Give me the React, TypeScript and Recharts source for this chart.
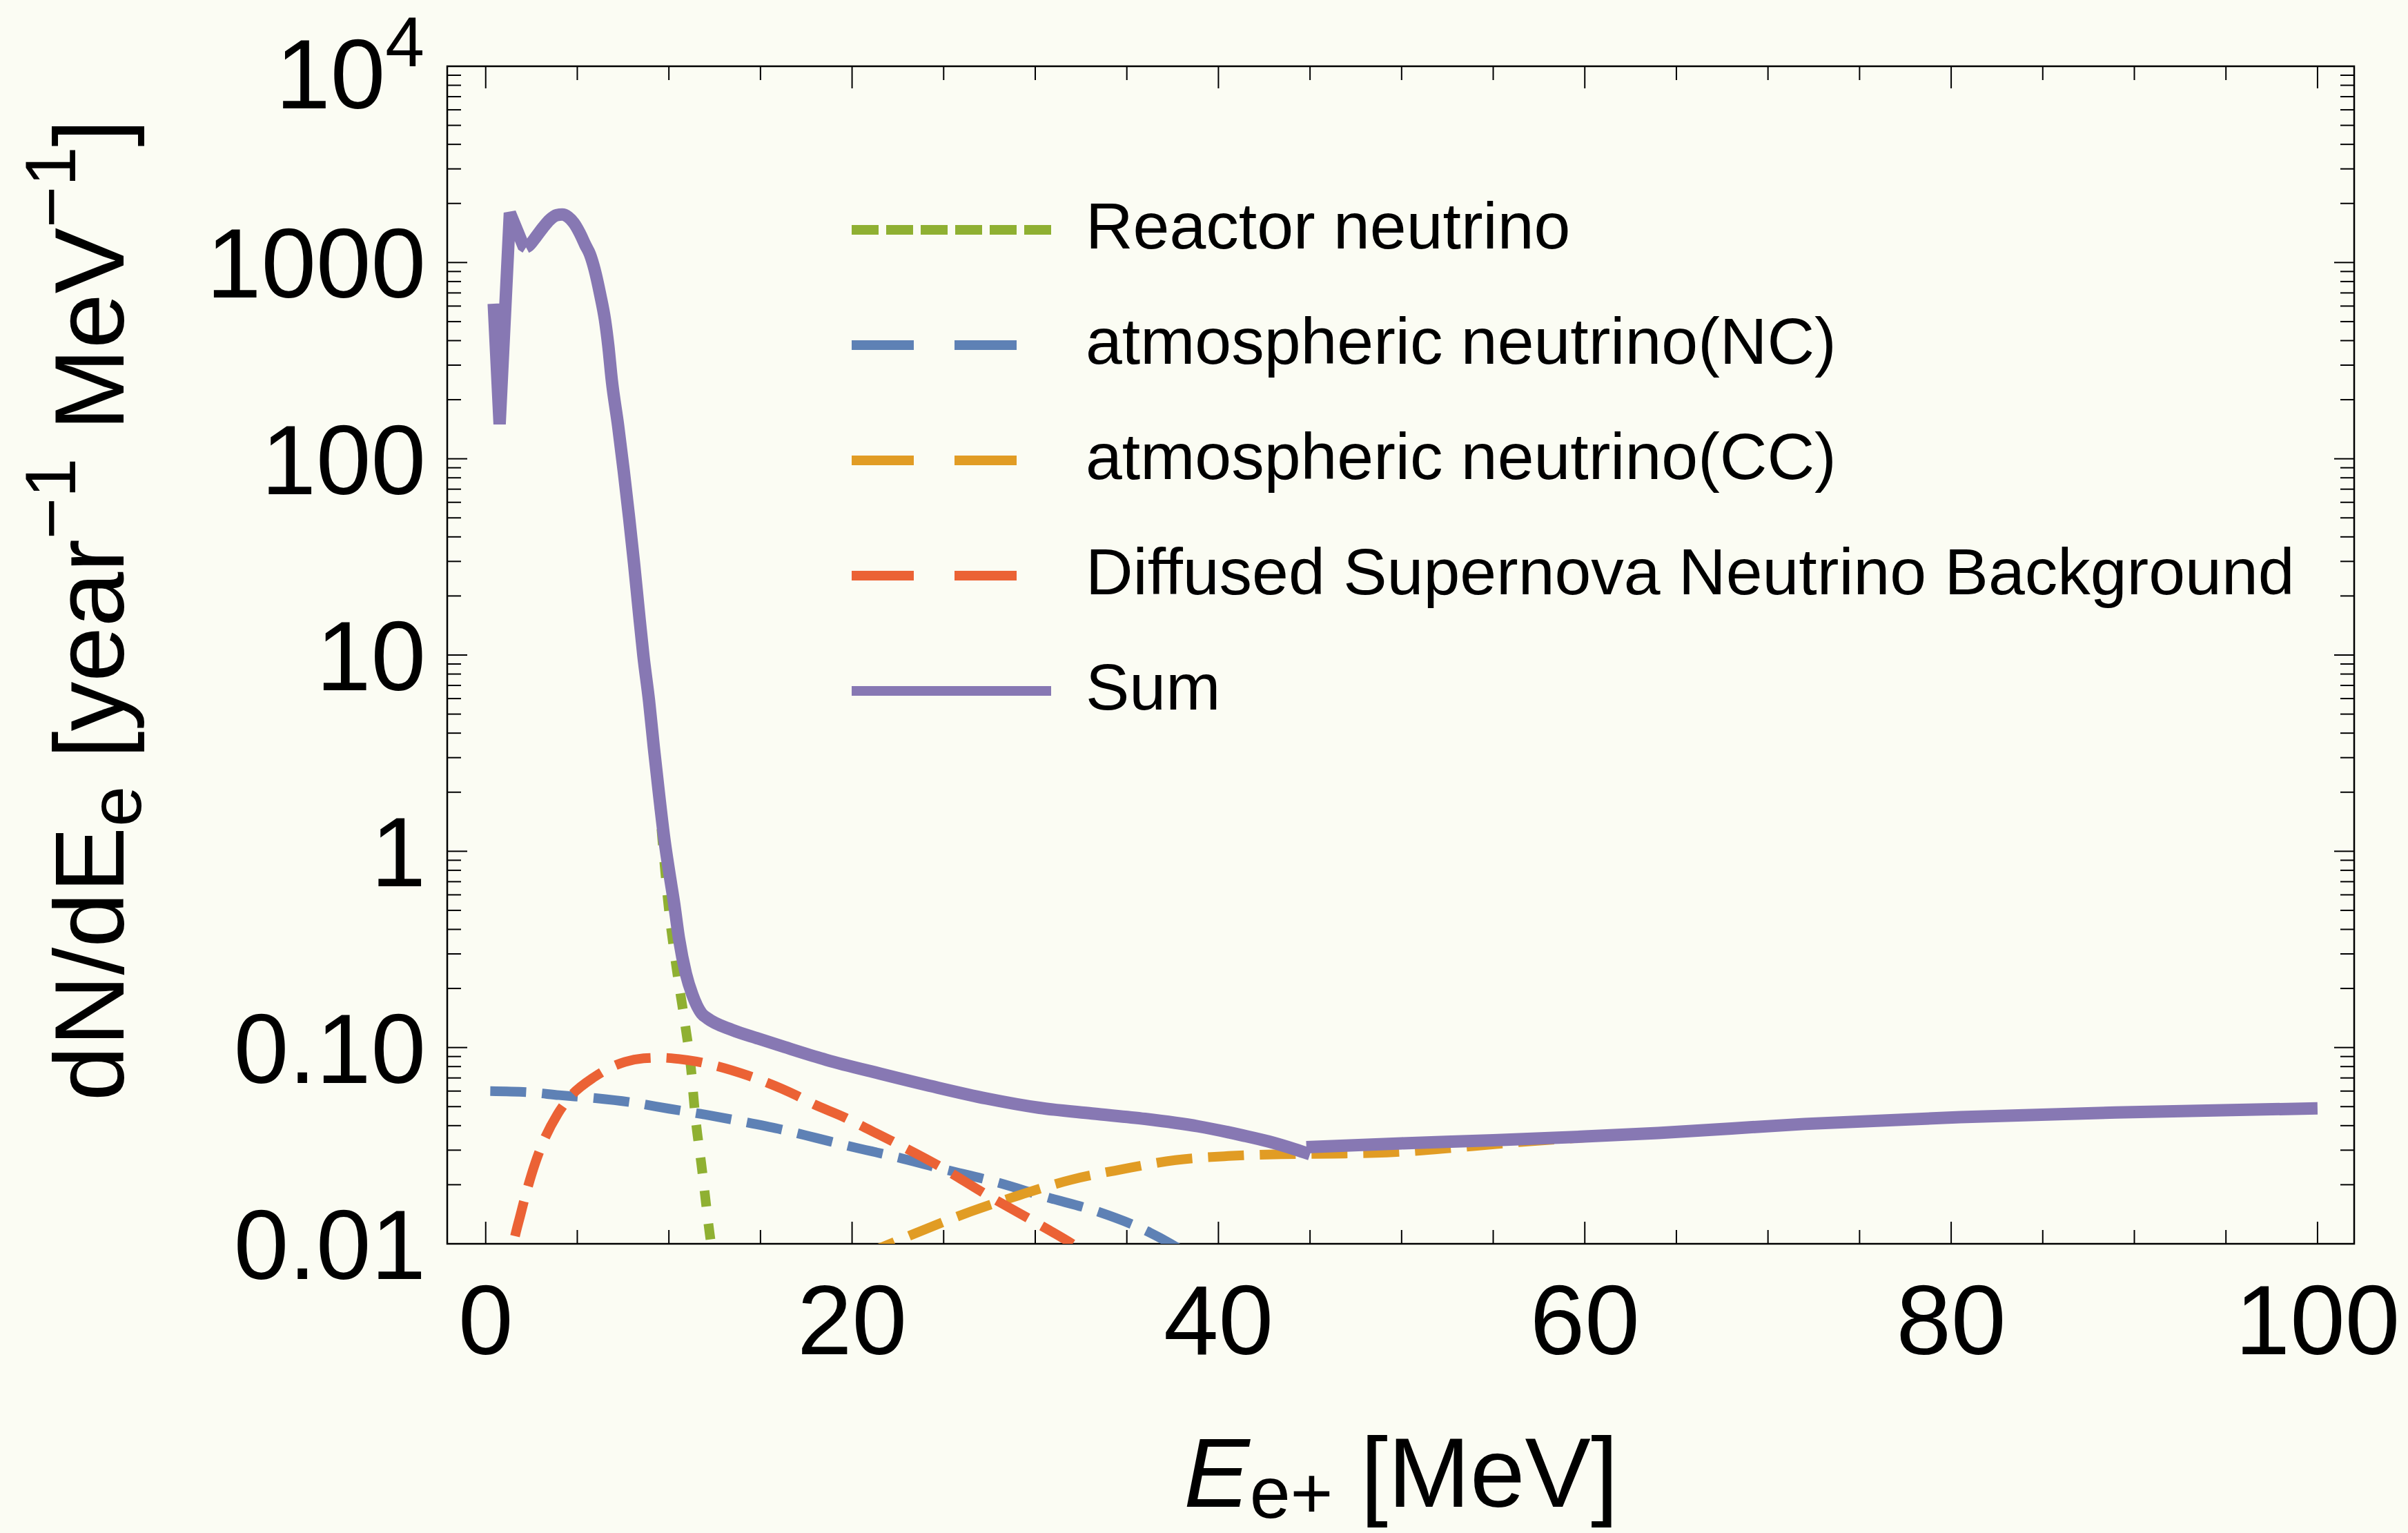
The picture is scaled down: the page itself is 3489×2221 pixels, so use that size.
import React from "react";
import { LineChart, Line, XAxis, YAxis, Legend, ReferenceArea } from "recharts";

type Pt = [number, number];

// positron energy (MeV) vs dN/dE (year^-1 MeV^-1)
const reactorNeutrino: Pt[] = [
  [4.18, 1757], [4.5, 1706], [4.81, 1591], [5.13, 1416], [5.44, 1228], [5.69, 1102],
  [5.94, 925], [6.25, 687], [6.51, 511], [6.69, 379], [6.88, 253], [7.23, 147],
  [7.54, 86], [7.83, 50], [8.1, 29.2], [8.35, 17], [8.61, 9.9], [8.92, 5.8],
  [9.18, 3.37], [9.46, 1.8], [9.72, 0.95], [9.96, 0.548], [10.42, 0.253],
  [10.86, 0.136], [11.21, 0.0778], [11.43, 0.0459], [11.79, 0.0247], [12.22, 0.0114],
  [12.45, 0.008],
];

const atmosphericNC: Pt[] = [
  [0.25, 0.06], [2.3, 0.0592], [4, 0.0572], [6, 0.0552], [8, 0.0525], [10, 0.0488],
  [12, 0.0455], [14, 0.042], [16, 0.0385], [18, 0.0347], [20, 0.0312], [22.2, 0.028],
  [25, 0.024], [27.8, 0.0207], [30.6, 0.0173], [33.4, 0.0146], [36.1, 0.0116],
  [37.4, 0.01], [38.6, 0.0085],
];

const atmosphericCC: Pt[] = [
  [20.5, 0.0087], [21.86, 0.0098], [23.74, 0.0116], [26.48, 0.0146], [29.14, 0.0177],
  [31.96, 0.0212], [34.77, 0.024], [37.65, 0.0267], [40.54, 0.028], [43.43, 0.0286],
  [46.34, 0.0288], [49.2, 0.0292], [51.1, 0.0299], [54, 0.0315], [57, 0.0333], [60, 0.0348],
];

const dsnb: Pt[] = [
  [1.15, 0.006], [1.45, 0.0093], [1.91, 0.0142], [2.71, 0.0259], [3, 0.0307], [3.93, 0.0459],
  [4.44, 0.0537], [5.95, 0.071], [6.67, 0.0779], [7.6, 0.0845], [8.62, 0.0881], [9.53, 0.0888],
  [10.5, 0.0875], [11.5, 0.0849], [12.37, 0.0815], [14.31, 0.072], [15.1, 0.0677],
  [17, 0.0568], [17.8, 0.052], [19.65, 0.0438], [20.35, 0.0406], [22.22, 0.0332],
  [24.82, 0.0247], [27.34, 0.0178], [29.86, 0.0131], [32.24, 0.0097], [33, 0.0087],
];

// the sharp low-energy spike of the sum (kept as straight segments)
const sumSpike: Pt[] = [
  [0.44, 617], [0.76, 150], [1.32, 1790], [1.75, 1430], [2.05, 1220], [2.2, 1195],
];

const sumBelow45: Pt[] = [
  [2.2, 1195], [2.36, 1221], [2.74, 1349], [3.12, 1503], [3.49, 1648], [3.87, 1743],
  [4.18, 1757], [4.5, 1706], [4.81, 1591], [5.13, 1416], [5.44, 1228], [5.69, 1102],
  [5.94, 925], [6.25, 687], [6.51, 511], [6.69, 379], [6.88, 253], [7.23, 147],
  [7.54, 86], [7.83, 50], [8.1, 29.2], [8.35, 17], [8.61, 9.9], [8.92, 5.8],
  [9.18, 3.37], [9.46, 1.96], [9.76, 1.14], [10.05, 0.75], [10.28, 0.548],
  [10.55, 0.36], [10.93, 0.238], [11.29, 0.185], [11.79, 0.149], [12.1, 0.141],
  [13.45, 0.123], [14.89, 0.111], [16.33, 0.1005], [18.6, 0.0865], [21.57, 0.0735],
  [24.45, 0.0632], [27.34, 0.055], [30.23, 0.0493], [33.11, 0.0461], [35.99, 0.0433],
  [38.88, 0.0397], [41.3, 0.0357], [42.74, 0.0332], [44.18, 0.0303], [45, 0.0286],
];

const sumAbove45: Pt[] = [
  [44.8, 0.0311], [50, 0.0325], [55, 0.0337], [60, 0.0352], [64, 0.0367],
  [72, 0.0408], [80.5, 0.0442], [89, 0.0467], [100, 0.049],
];

const seriesNames = [
  "Reactor neutrino",
  "atmospheric neutrino(NC)",
  "atmospheric neutrino(CC)",
  "Diffused Supernova Neutrino Background",
  "Sum",
];

const xTicks = [0, 5, 10, 15, 20, 25, 30, 35, 40, 45, 50, 55, 60, 65, 70, 75, 80, 85, 90, 95, 100];
const xTickLabels = [0, 20, 40, 60, 80, 100];
const yMajorTicks = [0.01, 0.1, 1, 10, 100, 1000, 10000];
const yTickLabels = ["0.01", "0.10", "1", "10", "100", "1000", "10^4"];

const W = 3489;
const H = 2221;
const PLOT = { left: 648, top: 96, right: 3411, bottom: 1802 };
const BG = "#FBFCF3";
const FONT = "'Liberation Sans', Arial, Helvetica, sans-serif";
const COLORS = ["#8FB032", "#5E81B5", "#E19C24", "#EB6235", "#8778B3"];
const PLOT_DASH = ["23 25", "52 23", "52 23", "52 23", undefined];
const LEGEND_DASH = ["39 11", "90 59", "90 59", "90 59", undefined];

const yTicks = yMajorTicks.flatMap((m, i) =>
  i < yMajorTicks.length - 1 ? [1, 2, 3, 4, 5, 6, 7, 8, 9].map((k) => k * m) : [m]
);

const toRows = (pts: Pt[]) => pts.map(([e, v]) => ({ e, v }));

function XTick(props: any) {
  const { x, y, payload } = props;
  const v = payload.value;
  const major = xTickLabels.includes(v);
  const len = major ? 32 : 20;
  return (
    <g>
      <line x1={x} x2={x} y1={y} y2={y - len} stroke="#000" strokeWidth={2} />
      <line x1={x} x2={x} y1={PLOT.top} y2={PLOT.top + len} stroke="#000" strokeWidth={2} />
      {major && (
        <text x={x} y={y + 160} textAnchor="middle" fontSize={143} fontFamily={FONT} fill="#000">
          {v}
        </text>
      )}
    </g>
  );
}

function YTick(props: any) {
  const { x, y, payload } = props;
  const idx = yMajorTicks.indexOf(payload.value);
  const major = idx >= 0;
  const len = major ? 29 : 20;
  const label = major ? yTickLabels[idx] : null;
  return (
    <g>
      <line x1={x} x2={x + len} y1={y} y2={y} stroke="#000" strokeWidth={2} />
      <line x1={PLOT.right} x2={PLOT.right - len} y1={y} y2={y} stroke="#000" strokeWidth={2} />
      {label && label !== "10^4" && (
        <text x={x - 31} y={y + 51} textAnchor="end" fontSize={143} fontFamily={FONT} fill="#000">
          {label}
        </text>
      )}
      {label === "10^4" && (
        <text x={x - 33} y={y + 61} textAnchor="end" fontSize={143} fontFamily={FONT} fill="#000">
          <tspan>10</tspan>
          <tspan dy={-61} fontSize={102}>4</tspan>
        </text>
      )}
    </g>
  );
}

function XTitle() {
  return (
    <text x={2030} y={2183} textAnchor="middle" fontSize={143} fontFamily={FONT} fill="#000">
      <tspan fontStyle="italic">E</tspan>
      <tspan dy={16} fontSize={106}>e+</tspan>
      <tspan dy={-16}> [MeV]</tspan>
    </text>
  );
}

function YTitle() {
  return (
    <text
      x={179}
      y={884}
      transform="rotate(-90 179 884)"
      textAnchor="middle"
      fontSize={143}
      fontFamily={FONT}
      fill="#000"
    >
      dN/dE
      <tspan dy={25} fontSize={106}>e</tspan>
      <tspan dy={-25}> [year</tspan>
      <tspan dy={-70} fontSize={103}>−1</tspan>
      <tspan dy={70}> MeV</tspan>
      <tspan dy={-70} fontSize={103}>−1</tspan>
      <tspan dy={70}>]</tspan>
    </text>
  );
}

function LegendBox() {
  return (
    <svg width={2250} height={820}>
      {seriesNames.map((name, i) => {
        const cy = 83 + 167 * i;
        return (
          <g key={name}>
            <line
              x1={34}
              x2={323}
              y1={cy}
              y2={cy}
              stroke={COLORS[i]}
              strokeWidth={14}
              strokeDasharray={LEGEND_DASH[i]}
            />
            <text x={373} y={cy + 27} fontSize={95} fontFamily={FONT} fill="#000">
              {name}
            </text>
          </g>
        );
      })}
    </svg>
  );
}

export default function App() {
  const curves = [reactorNeutrino, atmosphericNC, atmosphericCC, dsnb];
  const sumPieces: { pts: Pt[]; kind: "linear" | "monotone" }[] = [
    { pts: sumSpike, kind: "linear" },
    { pts: sumBelow45, kind: "monotone" },
    { pts: sumAbove45, kind: "monotone" },
  ];
  return (
    <div
      style={{
        position: "absolute",
        left: 0,
        top: 0,
        width: W,
        height: H,
        overflow: "hidden",
        background: BG,
        fontFamily: FONT,
      }}
    >
      <LineChart width={W} height={H} margin={{ top: PLOT.top, right: W - PLOT.right, bottom: 0, left: 0 }}>
        <XAxis
          dataKey="e"
          type="number"
          domain={[-2.1, 102]}
          allowDataOverflow
          ticks={xTicks}
          interval={0}
          tickSize={0}
          tickMargin={0}
          tickLine={false}
          axisLine={false}
          height={H - PLOT.bottom}
          tick={<XTick />}
          label={<XTitle />}
        />
        <YAxis
          type="number"
          scale="log"
          domain={[0.01, 10000]}
          allowDataOverflow
          ticks={yTicks}
          interval={0}
          tickSize={0}
          tickMargin={0}
          tickLine={false}
          axisLine={false}
          width={PLOT.left}
          tick={<YTick />}
          label={<YTitle />}
        />
        <ReferenceArea
          x1={-2.1}
          x2={102}
          y1={0.01}
          y2={10000}
          fill="none"
          stroke="#000"
          strokeWidth={2.5}
          ifOverflow="visible"
        />
        {curves.map((pts, i) => (
          <Line
            key={seriesNames[i]}
            name={seriesNames[i]}
            data={toRows(pts)}
            dataKey="v"
            type="monotone"
            stroke={COLORS[i]}
            strokeWidth={14}
            strokeDasharray={PLOT_DASH[i]}
            dot={false}
            activeDot={false}
            isAnimationActive={false}
          />
        ))}
        {sumPieces.map((piece, j) => (
          <Line
            key={`sum-${j}`}
            name="Sum"
            data={toRows(piece.pts)}
            dataKey="v"
            type={piece.kind}
            stroke={COLORS[4]}
            strokeWidth={18}
            dot={false}
            activeDot={false}
            isAnimationActive={false}
            legendType={j === 0 ? "line" : "none"}
          />
        ))}
        <Legend
          layout="vertical"
          align="center"
          verticalAlign="middle"
          wrapperStyle={{ left: 1200, top: 250, width: 2250, height: 820 }}
          content={() => <LegendBox />}
        />
      </LineChart>
    </div>
  );
}
